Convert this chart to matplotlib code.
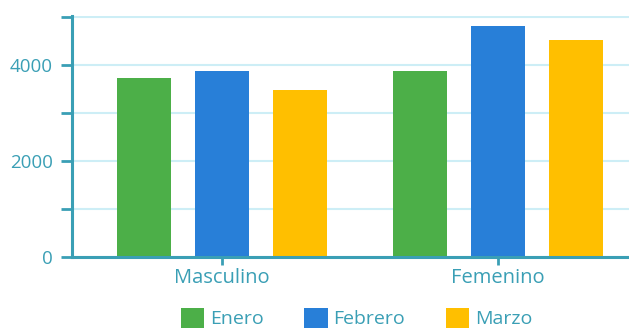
import numpy as np
import matplotlib.pyplot as plt
from matplotlib.patches import Patch

plt.rcParams['font.family'] = ['Open Sans', 'DejaVu Sans']

# ---------- data ----------
categories = ["Masculino", "Femenino"]
months = ["Enero", "Febrero", "Marzo"]
enero = [3730, 3875]
febrero = [3875, 4810]
marzo = [3480, 4520]
colors = ["#4caf48", "#287fd8", "#ffbf00"]

teal = "#3a9fb5"
grid_col = "#cdeef6"

fig = plt.figure(figsize=(6.29, 3.31), dpi=100)
ax = fig.add_axes([72/629, 74/331, 1 - 72/629, 241/331])

x = np.arange(len(categories))
width = 0.196
step = 0.283
for i, (vals, col) in enumerate(zip([enero, febrero, marzo], colors)):
    ax.bar(x + (i - 1) * step, vals, width, color=col, zorder=3)

ax.set_xlim(-0.543, 1.475)
ax.set_ylim(0, 5020)

# gridlines and ticks
ax.set_yticks([0, 2000, 4000])
ax.set_yticks([1000, 3000, 5000], minor=True)
ax.yaxis.grid(True, which="both", color=grid_col, linewidth=1.5, zorder=0)
ax.tick_params(axis="y", which="both", length=8, width=2, color=teal,
               labelcolor=teal, labelsize=13.5, pad=6)
ax.set_xticks(x)
ax.set_xticklabels(categories)
ax.tick_params(axis="x", length=6, width=2, color=teal, labelcolor=teal,
               labelsize=14.5, pad=2)

for s in ["top", "right"]:
    ax.spines[s].set_visible(False)
for s in ["left", "bottom"]:
    ax.spines[s].set_color(teal)
    ax.spines[s].set_linewidth(2.2)
    ax.spines[s].set_zorder(4)

handles = [Patch(facecolor=c, edgecolor="none") for c in colors]
leg = fig.legend(handles, months, loc="lower center", bbox_to_anchor=(0.567, -0.045),
                 ncol=3, frameon=False, fontsize=14, handlelength=1.2,
                 handleheight=1.2, handletextpad=0.3, columnspacing=2.1)
for t in leg.get_texts():
    t.set_color(teal)

fig.savefig("out.png", dpi=100)
